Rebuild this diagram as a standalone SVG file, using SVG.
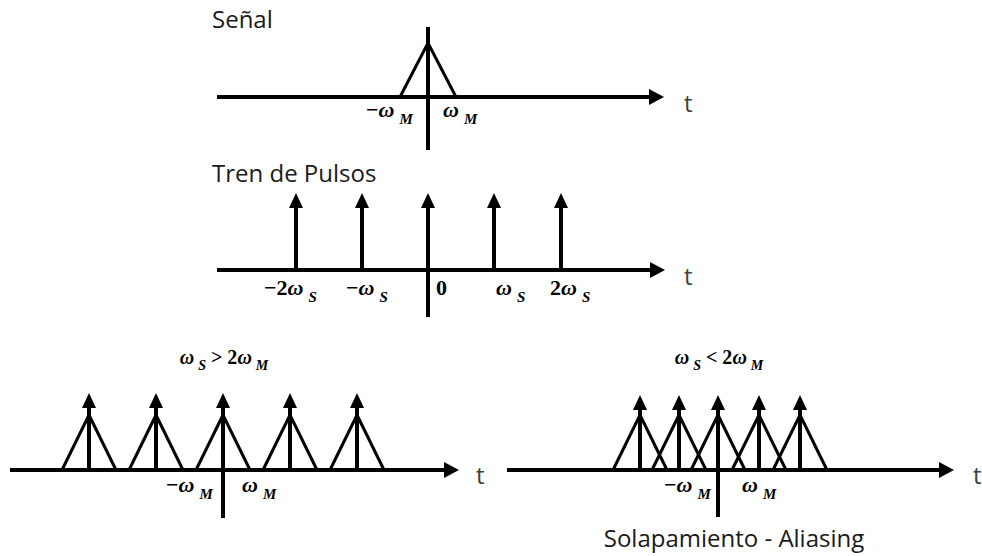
<svg xmlns="http://www.w3.org/2000/svg" width="982" height="556" viewBox="0 0 982 556">
<style>
.ax{stroke:#000;stroke-width:4;fill:none}
.tri{stroke:#000;stroke-width:3;fill:none;stroke-linejoin:miter}
.imp{stroke:#000;stroke-width:4;fill:none}
.title{font-family:"Open Sans","Noto Sans",sans-serif;font-size:24px;fill:#1a1a1a}
.t{font-family:"Open Sans","Noto Sans",sans-serif;font-size:24px;fill:#404040}
.lb{font-family:"Liberation Serif","DejaVu Serif",serif;font-size:22px;font-weight:bold;fill:#000}
.cond{font-family:"Liberation Serif","DejaVu Serif",serif;font-size:20px;font-weight:bold;fill:#000}
.w{font-style:italic}
.sub{font-style:italic;font-size:15px}
.csub{font-style:italic;font-size:14px}
</style>
<defs>
<marker id="ah" markerUnits="userSpaceOnUse" markerWidth="16" markerHeight="16" refX="0" refY="8" orient="auto"><path d="M0,0 L15,8 L0,16 z" fill="#000"/></marker>
<marker id="ih" markerUnits="userSpaceOnUse" markerWidth="16" markerHeight="16" refX="0" refY="7" orient="auto"><path d="M0,0 L15,7 L0,14 z" fill="#000"/></marker>
</defs>

<g id="senal">
<text class="title" x="212" y="28">Señal</text>
<g id="senal-axes">
<line class="ax" x1="217" y1="97" x2="649" y2="97" marker-end="url(#ah)"/>
<line class="ax" x1="428" y1="27" x2="428" y2="150"/>
</g>
<polyline class="tri" points="400,97 428,43 456,97"/>
<text class="t" x="684" y="112">t</text>
<text class="lb" x="366" y="117">−<tspan class="w">ω</tspan><tspan class="sub" dx="5" dy="7">M</tspan></text>
<text class="lb" x="443" y="117"><tspan class="w">ω</tspan><tspan class="sub" dx="5" dy="7">M</tspan></text>
</g>

<g id="tren">
<text class="title" x="212" y="182">Tren de Pulsos</text>
<g id="tren-axes">
<line class="ax" x1="217" y1="270" x2="650" y2="270" marker-end="url(#ah)"/>
<line class="ax" x1="428" y1="270" x2="428" y2="317"/>
</g>
<g id="tren-pulses">
<line class="imp" x1="296" y1="270" x2="296" y2="208" marker-end="url(#ih)"/>
<line class="imp" x1="362" y1="270" x2="362" y2="208" marker-end="url(#ih)"/>
<line class="imp" x1="428" y1="270" x2="428" y2="208" marker-end="url(#ih)"/>
<line class="imp" x1="494" y1="270" x2="494" y2="208" marker-end="url(#ih)"/>
<line class="imp" x1="561" y1="270" x2="561" y2="208" marker-end="url(#ih)"/>
</g>
<text class="t" x="684" y="285">t</text>
<text class="lb" x="264" y="295">−2<tspan class="w">ω</tspan><tspan class="sub" dx="5" dy="7">S</tspan></text>
<text class="lb" x="346" y="295">−<tspan class="w">ω</tspan><tspan class="sub" dx="5" dy="7">S</tspan></text>
<text class="lb" x="436" y="295">0</text>
<text class="lb" x="496" y="295"><tspan class="w">ω</tspan><tspan class="sub" dx="5" dy="7">S</tspan></text>
<text class="lb" x="550" y="295">2<tspan class="w">ω</tspan><tspan class="sub" dx="5" dy="7">S</tspan></text>
</g>

<g id="muestreo-ok">
<text class="cond" x="224" y="364" text-anchor="middle"><tspan class="w">ω</tspan><tspan class="csub" dx="4" dy="6">S</tspan><tspan dy="-6"> &gt; 2</tspan><tspan class="w">ω</tspan><tspan class="csub" dx="4" dy="6">M</tspan></text>
<g id="ok-axes">
<line class="ax" x1="10" y1="470" x2="444" y2="470" marker-end="url(#ah)"/>
<line class="ax" x1="223" y1="470" x2="223" y2="518"/>
</g>
<g id="ok-tri">
<polyline class="tri" points="62,470 89,415 116,470"/>
<polyline class="tri" points="129,470 156,415 183,470"/>
<polyline class="tri" points="196,470 223,415 250,470"/>
<polyline class="tri" points="263,470 290,415 317,470"/>
<polyline class="tri" points="330,470 357,415 384,470"/>
</g>
<g id="ok-pulses">
<line class="imp" x1="89" y1="470" x2="89" y2="408" marker-end="url(#ih)"/>
<line class="imp" x1="156" y1="470" x2="156" y2="408" marker-end="url(#ih)"/>
<line class="imp" x1="223" y1="470" x2="223" y2="408" marker-end="url(#ih)"/>
<line class="imp" x1="290" y1="470" x2="290" y2="408" marker-end="url(#ih)"/>
<line class="imp" x1="357" y1="470" x2="357" y2="408" marker-end="url(#ih)"/>
</g>
<text class="t" x="476" y="484">t</text>
<text class="lb" x="166" y="492">−<tspan class="w">ω</tspan><tspan class="sub" dx="5" dy="7">M</tspan></text>
<text class="lb" x="242" y="492"><tspan class="w">ω</tspan><tspan class="sub" dx="5" dy="7">M</tspan></text>
</g>

<g id="aliasing">
<text class="cond" x="719" y="364" text-anchor="middle"><tspan class="w">ω</tspan><tspan class="csub" dx="4" dy="6">S</tspan><tspan dy="-6"> &lt; 2</tspan><tspan class="w">ω</tspan><tspan class="csub" dx="4" dy="6">M</tspan></text>
<g id="al-axes">
<line class="ax" x1="507" y1="470" x2="939" y2="470" marker-end="url(#ah)"/>
<line class="ax" x1="718" y1="470" x2="718" y2="517"/>
</g>
<g id="al-tri">
<polyline class="tri" points="613,470 640,415 667,470"/>
<polyline class="tri" points="652,470 679,415 706,470"/>
<polyline class="tri" points="691,470 718,415 745,470"/>
<polyline class="tri" points="732,470 759,415 786,470"/>
<polyline class="tri" points="773,470 800,415 827,470"/>
</g>
<g id="al-pulses">
<line class="imp" x1="640" y1="470" x2="640" y2="410" marker-end="url(#ih)"/>
<line class="imp" x1="679" y1="470" x2="679" y2="410" marker-end="url(#ih)"/>
<line class="imp" x1="718" y1="470" x2="718" y2="410" marker-end="url(#ih)"/>
<line class="imp" x1="759" y1="470" x2="759" y2="410" marker-end="url(#ih)"/>
<line class="imp" x1="800" y1="470" x2="800" y2="410" marker-end="url(#ih)"/>
</g>
<text class="t" x="973" y="484">t</text>
<text class="lb" x="664" y="492">−<tspan class="w">ω</tspan><tspan class="sub" dx="5" dy="7">M</tspan></text>
<text class="lb" x="742" y="492"><tspan class="w">ω</tspan><tspan class="sub" dx="5" dy="7">M</tspan></text>
<text class="title" x="734" y="547" text-anchor="middle" font-size="27.5">Solapamiento - Aliasing</text>
</g>
</svg>
